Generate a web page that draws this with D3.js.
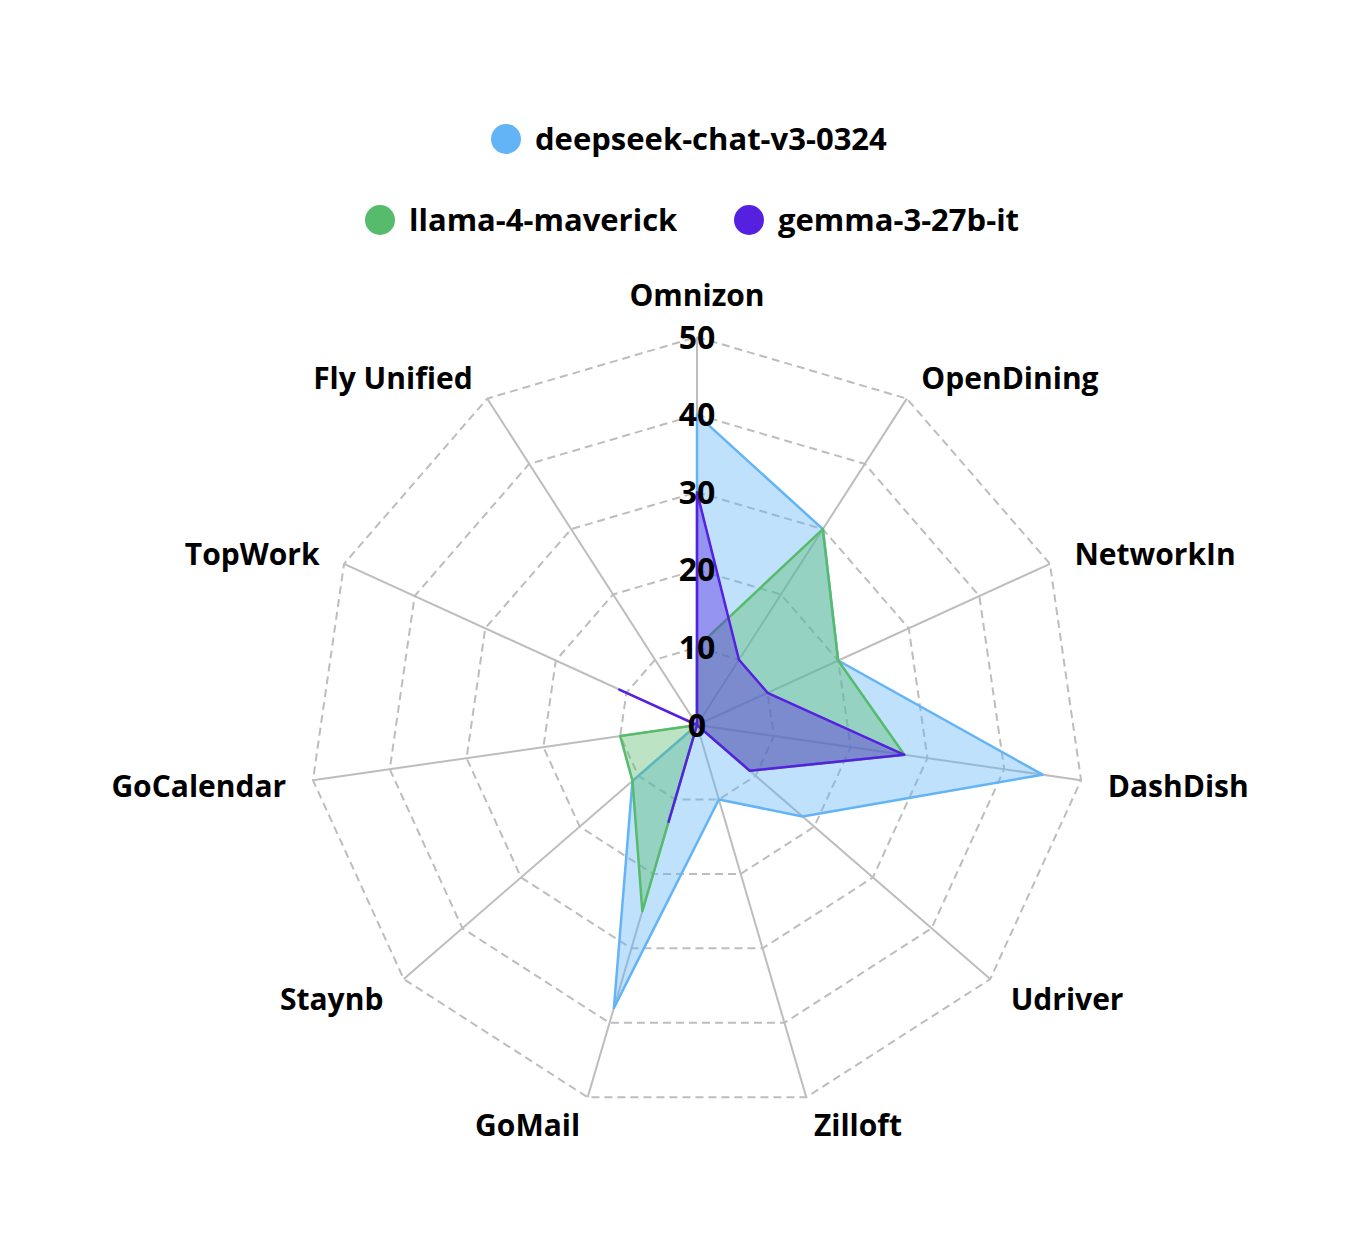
<!DOCTYPE html>
<html>
<head>
<meta charset="utf-8">
<script src="https://cdn.jsdelivr.net/npm/d3@7"></script>
<style>
  body { margin: 0; background: #fff; }
  text { font-family: "Open Sans", sans-serif; font-weight: 700; fill: #000; }
</style>
</head>
<body>
<div id="chart"></div>
<script>
// categories, clockwise from the top
const categories = ['Omnizon', 'OpenDining', 'NetworkIn', 'DashDish', 'Udriver', 'Zilloft',
                    'GoMail', 'Staynb', 'GoCalendar', 'TopWork', 'Fly Unified'];

const seriesNames = ['deepseek-chat-v3-0324', 'llama-4-maverick', 'gemma-3-27b-it'];
const deepseekValues = [40, 30, 20, 45, 18, 10, 38, 11, 0, 0, 0];
const llamaValues    = [10, 30, 20, 27, 9, 0, 25, 11, 10, 0, 0];
const gemmaValues    = [30, 10, 10, 27, 9, 0, 13, 0, 0, 11, 0];
const tickValues = [0, 10, 20, 30, 40, 50];

const width = 1354, height = 1242;
const cx = 697, cy = 725, radius = 388;
const colors = ['#62b4f7', '#57bb6c', '#5620e0'];

const svg = d3.select('#chart').append('svg')
  .attr('width', width)
  .attr('height', height);

const rScale = d3.scaleLinear().domain([0, 50]).range([0, radius]);
const angleSlice = Math.PI * 2 / categories.length;

const g = svg.append('g').attr('transform', `translate(${cx},${cy})`);

// ###
// GRID
// ###
const ringLine = d3.lineRadial()
  .angle((d, i) => i * angleSlice)
  .radius(d => rScale(d))
  .curve(d3.curveLinearClosed);

g.selectAll('.ring')
  .data(tickValues.slice(1))
  .enter()
  .append('path')
  .attr('class', 'ring')
  .attr('d', d => ringLine(categories.map(() => d)))
  .style('fill', 'none')
  .style('stroke', '#bdbdbd')
  .style('stroke-width', 2)
  .style('stroke-dasharray', '8,5');

g.selectAll('.spoke')
  .data(categories)
  .enter()
  .append('line')
  .attr('class', 'spoke')
  .attr('x1', 0).attr('y1', 0)
  .attr('x2', (d, i) => rScale(50) * Math.sin(i * angleSlice))
  .attr('y2', (d, i) => -rScale(50) * Math.cos(i * angleSlice))
  .style('stroke', '#bdbdbd')
  .style('stroke-width', 2);

// ###
// BLOBS
// ###
const radarLine = d3.lineRadial()
  .angle((d, i) => i * angleSlice)
  .radius(d => rScale(d))
  .curve(d3.curveLinearClosed);

[deepseekValues, llamaValues, gemmaValues].forEach((vals, k) => {
  g.append('path')
    .datum(vals)
    .attr('d', radarLine)
    .style('fill', colors[k])
    .style('fill-opacity', 0.4)
    .style('stroke', colors[k])
    .style('stroke-width', 2.5)
    .style('stroke-linejoin', 'round');
});

// tick labels along the top spoke
g.selectAll('.tick-label')
  .data(tickValues)
  .enter()
  .append('text')
  .attr('class', 'tick-label')
  .attr('x', 0)
  .attr('y', d => -rScale(d))
  .attr('dy', '0.36em')
  .attr('text-anchor', 'middle')
  .style('font-size', '32px')
  .text(d => d);

// category labels
const labelR = radius + 27;
g.selectAll('.cat-label')
  .data(categories)
  .enter()
  .append('text')
  .attr('class', 'cat-label')
  .attr('x', (d, i) => labelR * Math.sin(i * angleSlice))
  .attr('y', (d, i) => -labelR * Math.cos(i * angleSlice) + (i === 0 ? -15 : 2))
  .attr('dy', '0.36em')
  .attr('text-anchor', (d, i) => {
    const s = Math.sin(i * angleSlice);
    return Math.abs(s) < 0.01 ? 'middle' : (s > 0 ? 'start' : 'end');
  })
  .style('font-size', '30px')
  .text(d => d);

// ###
// LEGEND
// ###
const legendItems = [
  {name: seriesNames[0], color: colors[0], x: 506, y: 139},
  {name: seriesNames[1], color: colors[1], x: 380, y: 220},
  {name: seriesNames[2], color: colors[2], x: 749, y: 220}
];
const legend = svg.append('g').attr('class', 'legend');
legend.selectAll('circle')
  .data(legendItems)
  .enter()
  .append('circle')
  .attr('cx', d => d.x)
  .attr('cy', d => d.y)
  .attr('r', 15)
  .style('fill', d => d.color);
legend.selectAll('text')
  .data(legendItems)
  .enter()
  .append('text')
  .attr('x', d => d.x + 29)
  .attr('y', d => d.y)
  .attr('dy', '0.36em')
  .style('font-size', '31px')
  .text(d => d.name);
</script>
</body>
</html>
